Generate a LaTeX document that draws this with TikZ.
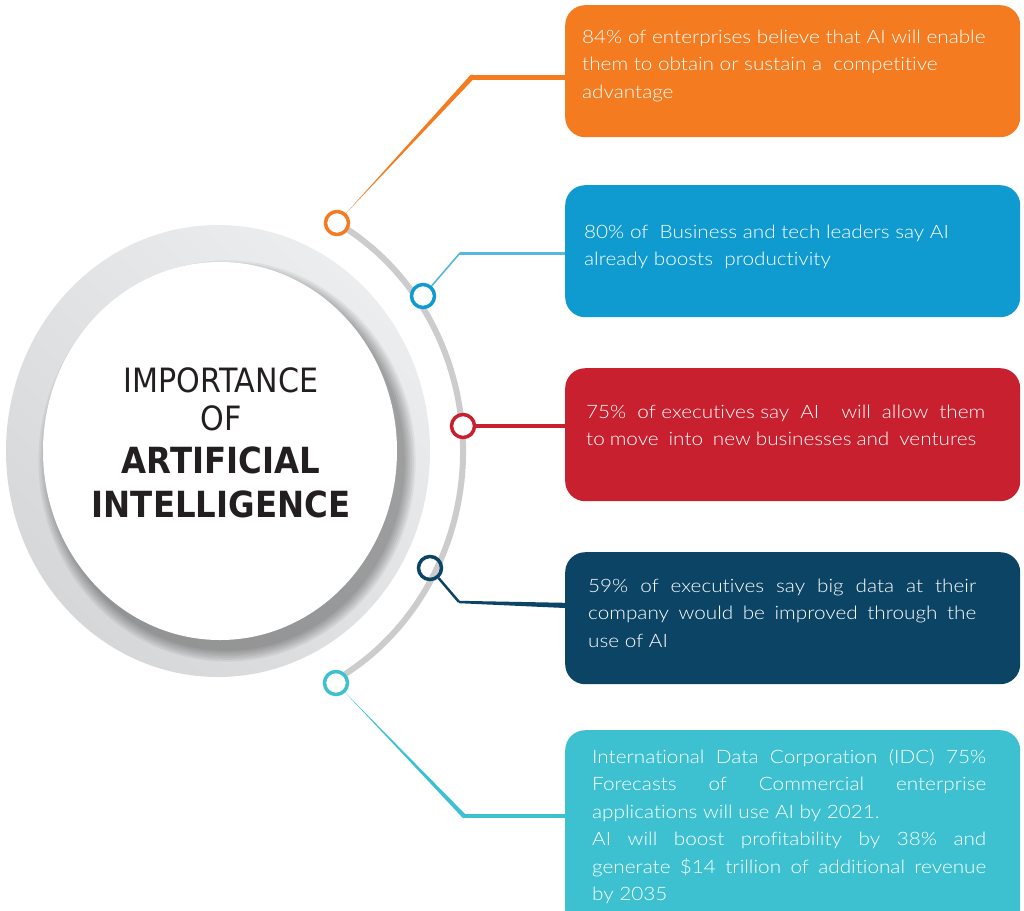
\documentclass[tikz,border=0pt]{standalone}
\usepackage{fontspec}
\setmainfont{Lato}[UprightFont={* Light}, FakeStretch=1.12, Ligatures=NoCommon]
\newfontfamily\titlefont{DejaVu Sans Condensed}
\usetikzlibrary{calc}
\definecolor{corange}{HTML}{F47B20}
\definecolor{cblue}{HTML}{0F9AD0}
\definecolor{cred}{HTML}{C8202F}
\definecolor{cnavy}{HTML}{0B4464}
\definecolor{ccyan}{HTML}{3DC1D0}
\definecolor{arcgray}{HTML}{CCCCCC}
\definecolor{ringlight}{HTML}{ECEDEE}
\definecolor{ringdark}{HTML}{D6D7D9}
\definecolor{titlecol}{HTML}{231F20}
\begin{document}
\begin{tikzpicture}[x=1pt,y=-1pt,
  infobox/.style={rounded corners=20pt, minimum width=455pt, anchor=north west, inner sep=0, draw=none},
  dot/.style={circle, draw, line width=3.5pt, minimum size=23pt, inner sep=0},
  boxtext/.style={anchor=base west, inner sep=0, text=white, font=\fontsize{18.5}{27.5}\selectfont},
  titletext/.style={anchor=base, inner sep=0, text=titlecol},
]
\useasboundingbox (0,0) rectangle (1024,910);
\fill[white] (0,0) rectangle (1024,910);

% central ring
\coordinate (ringc) at (218,451);
\shade[left color=ringlight, right color=ringdark, shading angle=-45] (ringc) ellipse [x radius=212, y radius=226];
\foreach \k in {1,...,7} {
  \fill[black, opacity=0.05] (227,461) ellipse [x radius={176+1.8*\k}, y radius={188+1.8*\k}];
}
\fill[white] (220,451) ellipse [x radius=177, y radius=189];

% gray arc
\coordinate (arcstart) at (336.8,222.7);
\draw[arcgray, line width=6pt] (arcstart) arc [start angle=-61, end angle=61, x radius=245, y radius=261];

% title
\node[titletext, font=\titlefont\fontsize{33.5}{33.5}\selectfont] (ti1) at (221,392) {IMPORTANCE};
\node[titletext, font=\titlefont\fontsize{33.5}{33.5}\selectfont] (ti2) at (221,430) {OF};
\node[titletext, font=\titlefont\bfseries\fontsize{36}{36}\selectfont] (ti3) at (221,473) {ARTIFICIAL};
\node[titletext, font=\titlefont\bfseries\fontsize{36}{36}\selectfont] (ti4) at (221,517) {INTELLIGENCE};

% boxes
\node[infobox, fill=corange, minimum height=132pt] (b1) at (565,5) {};
\node[infobox, fill=cblue, minimum height=132pt] (b2) at (565,185) {};
\node[infobox, fill=cred, minimum height=133pt] (b3) at (565,368) {};
\node[infobox, fill=cnavy, minimum height=132pt] (b4) at (565,552) {};
\node[infobox, fill=ccyan, minimum height=200pt] (b5) at (565,730) {};

% circles
\node[dot, draw=corange, fill=white] (c1) at (337,223) {};
\node[dot, draw=cblue, fill=white] (c2) at (423,296) {};
\node[dot, draw=cred, fill=white] (c3) at (463,426) {};
\node[dot, draw=cnavy] (c4) at (430,568) {};
\node[dot, draw=ccyan, fill=white] (c5) at (336,683) {};

% elbows
\coordinate (e1) at (472,77);
\coordinate (e2) at (460,253);
\coordinate (e4) at (459,602);
\coordinate (e5) at (464,816);

% connectors
\fill[corange] ($(c1)!12pt!(e1)$) -- ($(e1)!2.5pt!90:(c1)$) -- ($(e1)!2.5pt!-90:(c1)$) -- cycle;
\fill[corange] (e1) circle [radius=2.5];
\draw[corange, line width=5pt] (e1) -- (e1 -| b1.west);

\draw[cblue!70!white, line width=1.6pt] (c2) -- (e2);
\draw[cblue!70!white, line width=3pt] (e2) -- (e2 -| b2.west);

\draw[cred, line width=4pt] (c3) -- (c3 -| b3.west);

\draw[cnavy, line width=2.5pt] (c4) -- (e4);
\fill[cnavy] ($(e4)+(0,-1.2)$) -- ($(e4 -| b4.west)+(0,0.8)$) -- ($(e4 -| b4.west)+(0,6)$) -- ($(e4)+(0,1.2)$) -- cycle;

\fill[ccyan] ($(c5)!12pt!(e5)$) -- ($(e5)!2.2pt!90:(c5)$) -- ($(e5)!2.2pt!-90:(c5)$) -- cycle;
\fill[ccyan] (e5) circle [radius=2.2];
\draw[ccyan, line width=4.4pt] (e5) -- (e5 -| b5.west);

% texts
\node[boxtext] (t1) at (582,43) {\parbox[t]{430pt}{84\% of enterprises believe that AI will enable\\
them to obtain or sustain a~ competitive\\
advantage}};
\node[boxtext] (t2) at (584,238) {\parbox[t]{430pt}{80\% of~ Business and tech leaders say AI\\
already boosts~ productivity}};
\node[boxtext] (t3) at (586,418) {\parbox[t]{430pt}{\makebox[399pt][s]{75\% ~of executives say ~AI ~ ~will ~allow ~them}\\
\makebox[390pt][s]{to move ~into ~new businesses and ~ventures}}};
\node[boxtext] (t4) at (588,592) {\parbox[t]{430pt}{\makebox[388pt][s]{59\% of executives say big data at their}\\
\makebox[388pt][s]{company would be improved through the}\\
use of AI}};
\node[boxtext] (t5) at (592,763) {\parbox[t]{430pt}{\makebox[394pt][s]{International Data Corporation (IDC) 75\%}\\
\makebox[394pt][s]{Forecasts of Commercial enterprise}\\
applications will use AI by 2021.\\
\makebox[394pt][s]{AI will boost profitability by 38\% and}\\
\makebox[394pt][s]{generate \$14 trillion of additional revenue}\\
by 2035}};
\end{tikzpicture}
\end{document}
